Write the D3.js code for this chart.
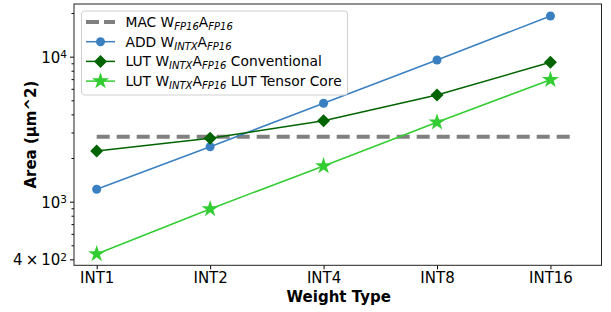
<!DOCTYPE html>
<html lang="en">
<head>
<meta charset="UTF-8">
<title>Area vs Weight Type</title>
<style>
    body { margin: 0; background: #fff; font-family: "DejaVu Sans", sans-serif; }
    svg text { font-family: "DejaVu Sans", sans-serif; }
</style>
</head>
<body>
<svg id="chart" width="611" height="312"></svg>
<script src="https://d3js.org/d3.v7.min.js"></script>
<script>
// data
const categories = ["INT1", "INT2", "INT4", "INT8", "INT16"];
const macArea = 2800;
const macSpan = [0, 4.19];           // dashed reference runs a bit past INT16
const addArea = [1218, 2394, 4770, 9480, 19090];
const lutConvArea = [2237, 2736, 3620, 5443, 9150];
const lutTensorArea = [436, 891, 1762, 3529, 6935];
const yMajorTicks = [400, 1000, 10000];
const yMinorTicks = [500, 600, 700, 800, 900, 2000, 3000, 4000, 5000, 6000, 7000, 8000, 9000, 20000];

const svg = d3.select("#chart");
const plotL = 74, plotR = 601.5, plotT = 4, plotB = 265.3;

const x = d3.scaleLinear().domain([-0.2, 4.45]).range([plotL, plotR]);
const y = d3.scaleLog().domain([364, 23080]).range([plotB, plotT]);

// axes
const xAxis = d3.axisBottom(x).tickValues(d3.range(categories.length))
    .tickFormat(i => categories[i]).tickSize(4).tickPadding(3);
svg.append("g").attr("transform", `translate(0,${plotB})`).call(xAxis)
    .call(g => g.select(".domain").remove())
    .selectAll("text").attr("font-size", 15).attr("fill", "#000");

svg.append("g").attr("transform", `translate(${plotL},0)`)
    .call(d3.axisLeft(y).tickValues(yMinorTicks).tickSize(2.5).tickFormat(""))
    .call(g => g.select(".domain").remove());

const yMaj = svg.append("g").attr("transform", `translate(${plotL},0)`)
    .call(d3.axisLeft(y).tickValues(yMajorTicks).tickSize(4).tickPadding(3).tickFormat(""));
yMaj.select(".domain").remove();
yMaj.selectAll(".tick").each(function (d) {
    const t = d3.select(this).append("text")
        .attr("x", -7).attr("dy", "0.36em").attr("text-anchor", "end")
        .attr("font-size", 15).attr("fill", "#000");
    const exp = Math.floor(Math.log10(d) + 1e-9);
    const mant = Math.round(d / Math.pow(10, exp));
    if (mant !== 1) t.append("tspan").text(mant + "\u2009\u00d7\u200910");
    else t.append("tspan").text("10");
    t.append("tspan").attr("dy", "-0.45em").attr("font-size", 10.5).text(exp);
});

// frame
svg.append("rect").attr("x", plotL).attr("y", plotT)
    .attr("width", plotR - plotL).attr("height", plotB - plotT)
    .attr("fill", "none").attr("stroke", "#222").attr("stroke-width", 1);

// series
const line = d3.line().x((d, i) => x(i)).y(d => y(d));

svg.append("line")
    .attr("x1", x(macSpan[0])).attr("x2", x(macSpan[1]))
    .attr("y1", y(macArea)).attr("y2", y(macArea))
    .attr("stroke", "#808080").attr("stroke-width", 4).attr("stroke-dasharray", "13,7");

const series = [
    { vals: addArea, color: "#3a80c0", marker: d3.symbolCircle, size: 64 },
    { vals: lutConvArea, color: "#006400", marker: "diamond", size: 6.5 },
    { vals: lutTensorArea, color: "#32cd32", marker: d3.symbolStar, size: 90 }
];

function markerPath(s) {
    if (s.marker === "diamond") {
        const r = s.size;
        return `M0,${-r}L${r},0L0,${r}L${-r},0Z`;
    }
    return d3.symbol(s.marker, s.size)();
}

series.forEach(s => {
    svg.append("path").datum(s.vals).attr("d", line)
        .attr("fill", "none").attr("stroke", s.color).attr("stroke-width", 1.5);
    svg.append("g").selectAll("path").data(s.vals).join("path")
        .attr("transform", (d, i) => `translate(${x(i)},${y(d)})`)
        .attr("d", markerPath(s)).attr("fill", s.color);
});

// legend
const legend = svg.append("g");
legend.append("rect").attr("x", 81.5).attr("y", 11).attr("width", 266).attr("height", 84)
    .attr("rx", 3).attr("fill", "#fff").attr("fill-opacity", 0.85)
    .attr("stroke", "#d0d0d0").attr("stroke-width", 1);

const legendRows = [
    { pre: "MAC W", sub1: "FP16", post: "", dashed: true },
    { pre: "ADD W", sub1: "INTX", post: "", s: series[0] },
    { pre: "LUT W", sub1: "INTX", post: " Conventional", s: series[1] },
    { pre: "LUT W", sub1: "INTX", post: " LUT Tensor Core", s: series[2] }
];
legendRows.forEach((r, k) => {
    const ly = 22 + k * 19.7;
    if (r.dashed) {
        legend.append("line").attr("x1", 86).attr("x2", 115).attr("y1", ly).attr("y2", ly)
            .attr("stroke", "#808080").attr("stroke-width", 4).attr("stroke-dasharray", "13,5");
    } else {
        legend.append("line").attr("x1", 86).attr("x2", 115).attr("y1", ly).attr("y2", ly)
            .attr("stroke", r.s.color).attr("stroke-width", 1.5);
        legend.append("path").attr("transform", `translate(100.5,${ly})`)
            .attr("d", markerPath(r.s)).attr("fill", r.s.color);
    }
    const t = legend.append("text").attr("x", 125.5).attr("y", ly + 4.8)
        .attr("font-size", 13.8).attr("fill", "#000");
    t.append("tspan").text(r.pre);
    t.append("tspan").attr("dy", 3.2).attr("font-size", 10).attr("font-style", "italic").text(r.sub1);
    t.append("tspan").attr("dy", -3.2).text("A");
    t.append("tspan").attr("dy", 3.2).attr("font-size", 10).attr("font-style", "italic").text("FP16");
    if (r.post) t.append("tspan").attr("dy", -3.2).text(r.post);
});

// axis titles
svg.append("text").attr("x", (plotL + plotR) / 2 + 1).attr("y", 302)
    .attr("text-anchor", "middle").attr("font-size", 15).attr("font-weight", "bold")
    .text("Weight Type");
svg.append("text").attr("transform", `translate(36,${(plotT + plotB) / 2}) rotate(-90)`)
    .attr("text-anchor", "middle").attr("font-size", 15).attr("font-weight", "bold")
    .text("Area (\u00b5m^2)");
</script>
</body>
</html>
